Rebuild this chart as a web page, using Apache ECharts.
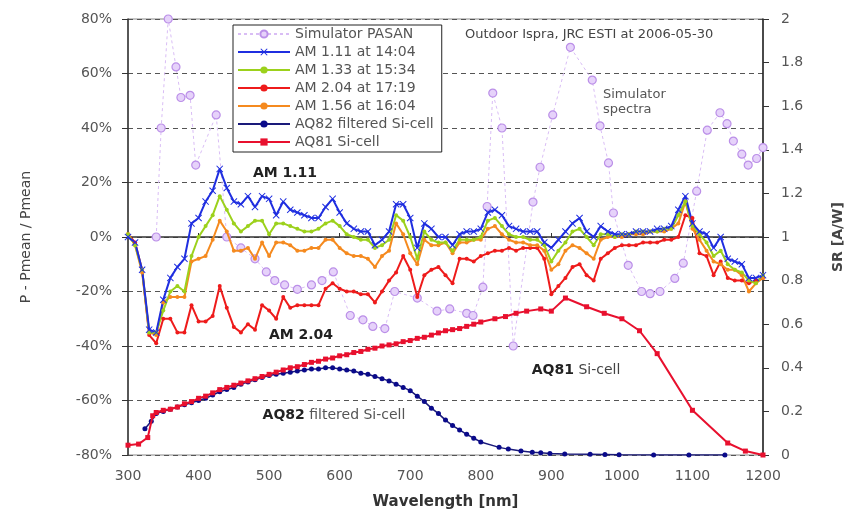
<!DOCTYPE html>
<html><head><meta charset="utf-8">
<script src="https://cdn.jsdelivr.net/npm/echarts@6/dist/echarts.min.js"></script>
<style>html,body{margin:0;padding:0;background:#fff}#c{width:856px;height:515px}</style>
</head><body><div id="c"></div>
<script>
// ---- data ----
const wavelength = [300,310,320,330,340,350,360,370,380,390,400,410,420,430,440,450,460,470,480,490,500,510,520,530,540,550,560,570,580,590,600,610,620,630,640,650,660,670,680,690,700,710,720,730,740,750,760,770,780,790,800,810,820,830,840,850,860,870,880,890,900,910,920,930,940,950,960,970,980,990,1000,1010,1020,1030,1040,1050,1060,1070,1080,1090,1100,1110,1120,1130,1140,1150,1160,1170,1180,1190,1200];
const am111 = [0,-2,-12,-34,-35,-23,-15,-11,-8,5,7,13,17,25,18,13,12,15,11,15,14,8,13,10,9,8,7,7,11,14,9,5,3,2,2,-3,-1,2,12,12,7,-4,5,3,0,0,-3,1,2,2,3,9,10,8,4,3,2,2,2,-2,-4,-1,2,5,7,2,0,4,2,1,1,1,2,2,2,3,3,4,10,15,5,2,1,-4,0,-8,-9,-10,-15,-15,-14];
const am133 = [1,-3,-12,-35,-35,-27,-20,-18,-20,-7,0,4,8,15,10,5,2,4,6,6,1,5,5,4,3,2,2,3,5,6,4,1,0,-1,-1,-4,-3,-1,8,6,0,-8,2,-1,-2,-2,-5,-1,-1,-1,0,6,7,4,1,0,0,-1,-1,-3,-9,-5,-2,2,3,0,-3,1,1,0,1,1,2,2,2,2,3,3,8,13,4,1,-2,-7,-5,-10,-12,-13,-16,-17,-14];
const am204 = [1,-2,-12,-36,-39,-30,-30,-35,-35,-25,-31,-31,-29,-18,-26,-33,-35,-32,-34,-25,-27,-30,-22,-26,-25,-25,-25,-25,-19,-17,-19,-20,-20,-21,-21,-24,-20,-16,-13,-7,-12,-22,-14,-12,-11,-14,-17,-8,-8,-9,-7,-6,-5,-5,-4,-5,-4,-4,-4,-8,-21,-18,-15,-11,-10,-14,-16,-8,-6,-4,-3,-3,-3,-2,-2,-2,-1,-1,0,8,7,-6,-7,-14,-9,-15,-16,-16,-17,-16,-15];
const am156 = [1,-3,-13,-35,-36,-24,-22,-22,-22,-9,-8,-7,-1,6,2,-5,-5,-4,-8,-2,-7,-2,-2,-3,-5,-5,-4,-4,-1,-1,-4,-6,-7,-7,-8,-11,-7,-5,5,1,-6,-10,-1,-3,-3,-2,-6,-2,-2,-1,-1,3,4,1,-1,-2,-2,-3,-3,-5,-12,-10,-5,-3,-4,-6,-8,-1,0,0,0,1,1,1,2,2,2,3,5,13,3,-1,-5,-9,-10,-12,-12,-14,-20,-17,-15];

const simWavelength = [340,347,357,368,375,388,396,425,440,460,480,496,508,522,540,560,575,591,615,633,647,664,678,710,738,756,780,789,803,809,817,830,846,874,884,902,927,958,969,981,988,1009,1028,1040,1054,1075,1087,1106,1121,1139,1149,1158,1170,1179,1191,1200];
const simValue = [1.00,1.50,2.00,1.78,1.64,1.65,1.33,1.56,1.00,0.95,0.90,0.84,0.80,0.78,0.76,0.78,0.80,0.84,0.64,0.62,0.59,0.58,0.75,0.72,0.66,0.67,0.65,0.64,0.77,1.14,1.66,1.50,0.50,1.16,1.32,1.56,1.87,1.72,1.51,1.34,1.11,0.87,0.75,0.74,0.75,0.81,0.88,1.21,1.49,1.57,1.52,1.44,1.38,1.33,1.36,1.41];

const aq82Wavelength = [324,333,340,350,360,370,380,390,400,410,420,430,440,450,460,470,480,490,500,510,520,530,540,550,560,570,580,590,600,610,620,630,640,650,660,670,680,690,700,710,720,730,740,750,760,770,780,790,800,826,839,857,873,885,898,919,955,976,996,1045,1095,1146];
const aq82SR = [0.12,0.155,0.19,0.20,0.21,0.22,0.23,0.24,0.25,0.26,0.275,0.29,0.30,0.31,0.325,0.335,0.345,0.355,0.365,0.37,0.375,0.38,0.385,0.39,0.395,0.395,0.40,0.40,0.395,0.39,0.385,0.375,0.37,0.36,0.35,0.34,0.325,0.31,0.295,0.27,0.245,0.215,0.19,0.16,0.135,0.115,0.095,0.077,0.06,0.035,0.027,0.018,0.013,0.01,0.007,0.005,0.003,0.002,0.001,0,0,0];

const aq81Wavelength = [300,315,328,335,340,350,360,370,380,390,400,410,420,430,440,450,460,470,480,490,500,510,520,530,540,550,560,570,580,590,600,610,620,630,640,650,660,670,680,690,700,710,720,730,740,750,760,770,780,790,800,820,835,850,865,885,900,920,950,975,1000,1025,1050,1100,1150,1175,1200];
const aq81SR = [0.045,0.05,0.08,0.18,0.195,0.205,0.21,0.22,0.235,0.245,0.26,0.27,0.285,0.30,0.31,0.32,0.33,0.34,0.35,0.36,0.37,0.38,0.39,0.40,0.405,0.415,0.425,0.43,0.44,0.445,0.455,0.46,0.47,0.475,0.485,0.49,0.50,0.505,0.51,0.52,0.525,0.535,0.54,0.55,0.56,0.57,0.575,0.58,0.59,0.60,0.61,0.625,0.635,0.65,0.66,0.67,0.66,0.72,0.68,0.65,0.625,0.57,0.465,0.205,0.055,0.018,0.0];

const xTicks = {min: 300, max: 1200, step: 100};
const leftTicks = {min: -80, max: 80, step: 20};
const rightTicks = {min: 0, max: 2, step: 0.2};

const names = ['Simulator PASAN','AM 1.11 at 14:04','AM 1.33 at 15:34','AM 2.04 at 17:19','AM 1.56 at 16:04','AQ82 filtered Si-cell','AQ81 Si-cell'];

// ---- chart ----
const zip = (xs, ys) => xs.map((x, i) => [x, ys[i]]);
const FONT = '"DejaVu Sans", Arial, sans-serif';
const xPath = 'path://M0,1 L1,0 L5,4 L9,0 L10,1 L6,5 L10,9 L9,10 L5,6 L1,10 L0,9 L4,5 Z';

const amSeries = (name, data, color, symbol, size) => ({
  name, type: 'line', yAxisIndex: 0, data, symbol, symbolSize: size,
  lineStyle: {color, width: 2}, itemStyle: {color}, z: 5
});

const chart = echarts.init(document.getElementById('c'));
chart.setOption({
  animation: false,
  backgroundColor: '#fff',
  textStyle: {fontFamily: FONT},
  grid: {left: 128, right: 93, top: 19, bottom: 57.5, show: true, borderColor: '#888', borderWidth: 1, backgroundColor: 'transparent'},
  legend: {
    data: names, orient: 'vertical', left: 233, top: 25,
    itemWidth: 52, itemHeight: 9, itemGap: 4,
    padding: [2, 8, 3, 4],
    borderColor: '#222', borderWidth: 1, backgroundColor: '#fff',
    textStyle: {fontFamily: FONT, fontSize: 14, color: '#555', lineHeight: 14},
    z: 20
  },
  xAxis: {
    type: 'value', min: xTicks.min, max: xTicks.max, interval: xTicks.step,
    name: 'Wavelength [nm]', nameLocation: 'middle', nameGap: 40,
    nameTextStyle: {fontFamily: FONT, fontSize: 15, fontWeight: 'bold', color: '#333'},
    axisLine: {lineStyle: {color: '#333', width: 1.5}},
    axisTick: {inside: true, length: 4, lineStyle: {color: '#333'}},
    axisLabel: {fontFamily: FONT, fontSize: 14, color: '#555', margin: 14, formatter: v => String(v)},
    splitLine: {show: false}
  },
  yAxis: [{
    type: 'value', min: leftTicks.min, max: leftTicks.max, interval: leftTicks.step,
    name: 'P - Pmean / Pmean', nameLocation: 'middle', nameGap: 95, nameRotate: 90,
    nameTextStyle: {fontFamily: FONT, fontSize: 14, color: '#444'},
    axisLine: {show: true, lineStyle: {color: '#333', width: 1.5}},
    axisTick: {show: true, length: 6, lineStyle: {color: '#333'}},
    axisLabel: {fontFamily: FONT, fontSize: 14, color: '#555', margin: 16, formatter: v => v + '%'},
    splitLine: {show: true, lineStyle: {color: '#555', type: [5, 4], width: 1}}
  }, {
    type: 'value', min: rightTicks.min, max: rightTicks.max, interval: rightTicks.step,
    position: 'right',
    name: 'SR [A/W]', nameLocation: 'middle', nameGap: 68, nameRotate: 90,
    nameTextStyle: {fontFamily: FONT, fontSize: 14, fontWeight: 'bold', color: '#444'},
    axisLine: {show: true, lineStyle: {color: '#222', width: 1.5}},
    axisTick: {show: true, length: 6, lineStyle: {color: '#333'}},
    axisLabel: {fontFamily: FONT, fontSize: 14, color: '#555', margin: 18},
    splitLine: {show: false}
  }],
  series: [
    {name: names[0], type: 'line', yAxisIndex: 1, data: zip(simWavelength, simValue),
     symbol: 'circle', symbolSize: 8,
     lineStyle: {color: '#d9bdf5', width: 1, type: [3, 3]},
     itemStyle: {color: '#e6d2fa', borderColor: '#bb8fe8', borderWidth: 1.2}, z: 2},
    {name: names[5], type: 'line', yAxisIndex: 1, data: zip(aq82Wavelength, aq82SR),
     symbol: 'circle', symbolSize: 5,
     lineStyle: {color: '#1a1a7a', width: 1.5}, itemStyle: {color: '#0a0a8a'}, z: 3},
    {name: names[6], type: 'line', yAxisIndex: 1, data: zip(aq81Wavelength, aq81SR),
     symbol: 'rect', symbolSize: 5,
     lineStyle: {color: '#e8102e', width: 2}, itemStyle: {color: '#e8102e'}, z: 4},
    amSeries(names[3], zip(wavelength, am204), '#ee1b1b', 'circle', 4),
    amSeries(names[4], zip(wavelength, am156), '#f58a1f', 'circle', 4),
    amSeries(names[2], zip(wavelength, am133), '#9cd11c', 'circle', 4),
    amSeries(names[1], zip(wavelength, am111), '#1f2ee0', xPath, 7)
  ],
  graphic: [
    {type: 'text', x: 285, y: 173, z: 50, style: {text: 'AM 1.11', font: 'bold 14px ' + FONT, fill: '#222', align: 'center', verticalAlign: 'middle'}},
    {type: 'text', x: 301, y: 335, z: 50, style: {text: 'AM 2.04', font: 'bold 14px ' + FONT, fill: '#222', align: 'center', verticalAlign: 'middle'}},
    {type: 'text', x: 576, y: 370, z: 50, style: {text: '{b|AQ81} Si-cell', font: '14px ' + FONT, fill: '#444', align: 'center', verticalAlign: 'middle', rich: {b: {fontWeight: 'bold', fill: '#222', fontSize: 14, fontFamily: FONT}}}},
    {type: 'text', x: 334, y: 415, z: 50, style: {text: '{b|AQ82} filtered Si-cell', font: '14px ' + FONT, fill: '#555', align: 'center', verticalAlign: 'middle', rich: {b: {fontWeight: 'bold', fill: '#222', fontSize: 14, fontFamily: FONT}}}},
    {type: 'text', x: 603, y: 102, z: 50, style: {text: 'Simulator\nspectra', font: '13px ' + FONT, fill: '#555', align: 'left', verticalAlign: 'middle', lineHeight: 15}},
    {type: 'text', x: 465, y: 35, z: 50, style: {text: 'Outdoor Ispra, JRC ESTI at 2006-05-30', font: '13px ' + FONT, fill: '#444', align: 'left', verticalAlign: 'middle'}}
  ]
});
</script>
</body></html>
